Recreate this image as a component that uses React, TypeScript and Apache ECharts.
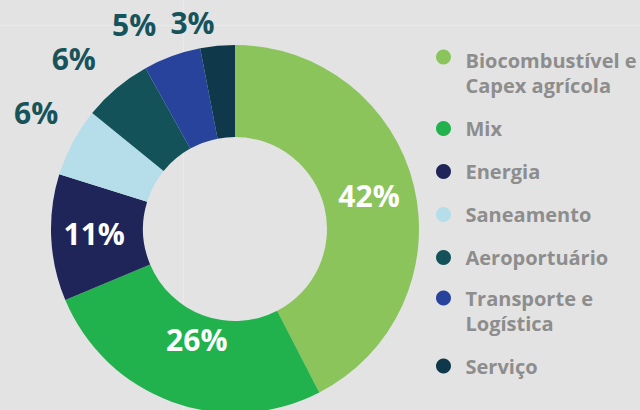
import React, { useEffect, useRef } from 'react';
import * as echarts from 'echarts';

const categories = [
  'Biocombustível e Capex agrícola',
  'Mix',
  'Energia',
  'Saneamento',
  'Aeroportuário',
  'Transporte e Logística',
  'Serviço',
];
const shares = [42, 26, 11, 6, 6, 5, 3];
const sliceColors = ['#8bc45b', '#21b24d', '#1f2558', '#b5deea', '#14525a', '#27439c', '#0f394b'];
const labelInside = [true, true, true, false, false, false, false];
const labelNudge: [number, number][] = [
  [-3, 0],
  [10, -22],
  [0, -2],
  [8, -20],
  [-3, -14],
  [-4, -13],
  [4, -3],
];
// rich-text spacer style used above two-line legend names
const legendSpacer: Record<string, string> = {
  'Biocombustível e Capex agrícola': 'spA',
  'Transporte e Logística': 'spB',
};

export default function App() {
  const ref = useRef<HTMLDivElement>(null);
  useEffect(() => {
    if (!ref.current) return;
    const chart = echarts.init(ref.current, undefined, { renderer: 'svg' });
    const legendBase = {
      orient: 'vertical',
      left: 431,
      icon: 'circle',
      itemWidth: 34,
      itemHeight: 15,
      itemGap: 18,
      selectedMode: false,
      formatter: (n: string) =>
        legendSpacer[n] ? `{${legendSpacer[n]}| }\n` + n.replace(' e ', ' e\n') : n,
      textStyle: {
        color: '#8d8d8d',
        fontFamily: 'Open Sans',
        fontWeight: 700,
        fontSize: 20,
        lineHeight: 25,
        rich: {
          spA: { lineHeight: 32, fontSize: 20 },
          spB: { lineHeight: 25, fontSize: 20 },
        },
      },
    };
    chart.setOption({
      animation: false,
      backgroundColor: '#e3e3e3',
      graphic: [
        {
          type: 'line',
          z: 0,
          silent: true,
          shape: { x1: 0, y1: 25.5, x2: 640, y2: 25.5 },
          style: { stroke: '#eaeaea', lineWidth: 1 },
        },
        {
          type: 'line',
          z: 0,
          silent: true,
          shape: { x1: 183.5, y1: 0, x2: 183.5, y2: 410 },
          style: { stroke: '#eaeaea', lineWidth: 1 },
        },
      ],
      legend: [
        { ...legendBase, top: 11, data: categories.slice(0, 5) },
        { ...legendBase, top: 255.5, data: categories.slice(5) },
      ],
      series: [
        {
          type: 'pie',
          z: 2,
          center: [235, 229],
          radius: [92, 184],
          startAngle: 90,
          clockwise: true,
          avoidLabelOverlap: false,
          silent: true,
          labelLine: { show: false, length: 20, length2: 0 },
          label: {
            fontFamily: 'Open Sans',
            fontWeight: 700,
            fontSize: 30,
            formatter: (p: any) => `${p.value}%`,
          },
          labelLayout: (p: any) => ({
            dx: labelNudge[p.dataIndex][0],
            dy: labelNudge[p.dataIndex][1],
          }),
          data: categories.map((name, i) => ({
            name,
            value: shares[i],
            itemStyle: { color: sliceColors[i] },
            label: labelInside[i]
              ? { position: 'inside', color: '#ffffff' }
              : { position: 'outside', color: '#17535b' },
          })),
        },
      ],
    });
    return () => chart.dispose();
  }, []);
  return (
    <div
      ref={ref}
      style={{ position: 'fixed', left: 0, top: 0, width: 640, height: 410 }}
    />
  );
}
